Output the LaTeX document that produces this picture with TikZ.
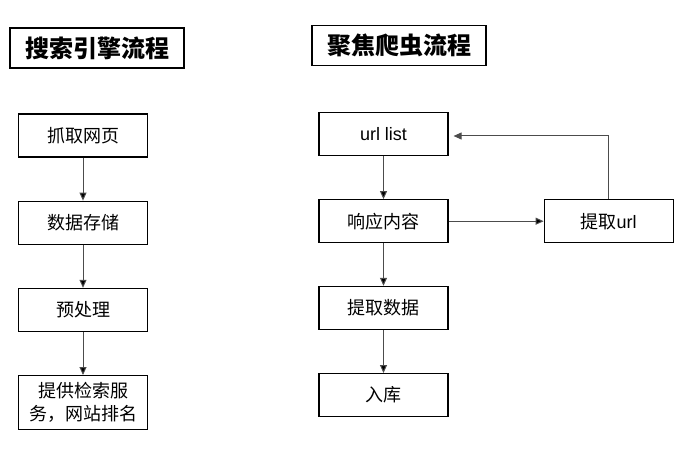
\documentclass[tikz,border=0pt]{standalone}
\usepackage{fontspec}
\setmainfont{Noto Sans CJK SC}
\newfontfamily\lat{Liberation Sans}
\usetikzlibrary{positioning,arrows.meta}

\begin{document}
\begin{tikzpicture}[x=1pt, y=-1pt, node distance=43pt, line width=1.2pt,
    box/.style={rectangle, draw, minimum width=129pt, minimum height=43pt,
        inner sep=2pt, align=center, font=\fontsize{18}{23}\selectfont},
    title/.style={rectangle, draw, minimum width=174pt, minimum height=40pt,
        font=\fontsize{24}{28}\selectfont\bfseries},
    flow/.style={draw=black!70, line width=1pt, -{Triangle[length=8pt,width=7pt]}}]
    \useasboundingbox (0,0) rectangle (682,449);
    % titles
    \node[title] (t-search) at (97,48) {搜索引擎流程};
    \node[title] (t-crawl) at (399,45.5) {聚焦爬虫流程};
    % search engine
    \node[box] (fetch) at (83,135.5) {抓取网页};
    \node[box, below=of fetch] (store) {数据存储};
    \node[box, below=of store] (prep) {预处理};
    \node[box, below=of prep, minimum height=54pt] (serve) {提供检索服\\务，网站排名};
    % focused crawler
    \node[box] (urls) at (383.5,134) {\lat url list};
    \node[box, below=of urls] (resp) {响应内容};
    \node[box, below=42.5pt of resp] (data) {提取数据};
    \node[box, below=of data] (save) {入库};
    \node[box, right=95pt of resp] (geturl) {提取{\lat url}};
    \path[flow]
        (fetch) edge (store)
        (store) edge (prep)
        (prep) edge (serve)
        (urls) edge (resp)
        (resp) edge (data)
        (data) edge (save)
        (resp) edge (geturl);
    \draw[flow, shorten >=5pt] (geturl.north) |- ([yshift=-2pt]urls.east);
\end{tikzpicture}
\end{document}
